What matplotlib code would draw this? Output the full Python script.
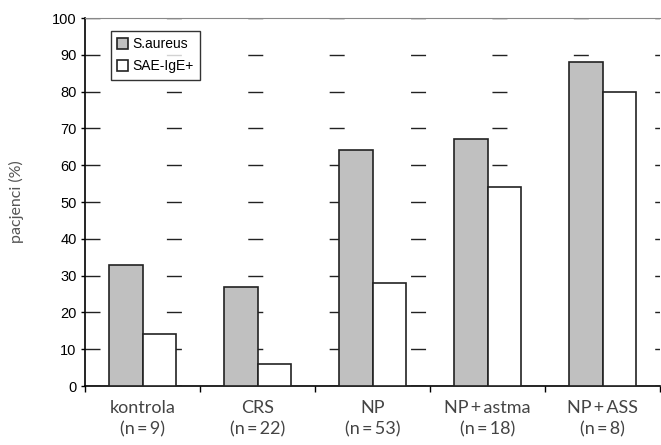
import matplotlib.pyplot as plt
import numpy as np

groups = ['kontrola\n(n\u2009=\u20099)', 'CRS\n(n\u2009=\u200922)', 'NP\n(n\u2009=\u200953)',
          'NP\u2009+\u2009astma\n(n\u2009=\u200918)', 'NP\u2009+\u2009ASS\n(n\u2009=\u20098)']
s_aureus = [33, 27, 64, 67, 88]
sae_ige = [14, 6, 28, 54, 80]

fig = plt.figure(figsize=(6.61, 4.45), dpi=100)
ax = fig.add_axes([85 / 661, 59 / 445, 575 / 661, 368 / 445])

x = np.arange(len(groups))
w = 0.29
ax.bar(x - w / 2, s_aureus, w, color='#c0c0c0', edgecolor='#222222', linewidth=1.2, label='S.aureus', zorder=3)
ax.bar(x + w / 2, sae_ige, w, color='white', edgecolor='#222222', linewidth=1.2, label='SAE-IgE+', zorder=3)

ax.set_xlim(-0.5, 4.5)
ax.set_ylim(0, 100)
ax.set_yticks(range(0, 101, 10))
ax.set_xticks(np.arange(-0.5, 4.6, 1))
ax.set_xticklabels([])
ax.set_xticks(x, minor=True)
ax.set_xticklabels(groups, minor=True, family=['Lato', 'DejaVu Sans'],
                   fontsize=13, color='#444444', linespacing=1.4)
ax.tick_params(axis='x', which='minor', length=0, pad=10)
ax.tick_params(axis='x', which='major', direction='out', length=4, width=1)
ax.tick_params(axis='y', direction='out', length=3, width=1, labelsize=10.5, pad=3)
for t in ax.get_yticklabels():
    t.set_fontfamily('Liberation Sans')

ax.yaxis.grid(True, color='#222222', linewidth=1, linestyle=(0, (10.8, 47.8)), zorder=1)

ax.spines['right'].set_visible(False)
ax.spines['top'].set_color('#888888')
ax.spines['left'].set_linewidth(1.2)
ax.spines['bottom'].set_linewidth(1.2)

ax.set_ylabel('pacjenci (%)', family=['Lato', 'DejaVu Sans'], fontsize=11.5,
              color='#555555', labelpad=20)

leg = ax.legend(loc='upper left', bbox_to_anchor=(0.045, 0.965), frameon=True, fancybox=False,
                edgecolor='black', prop={'family': 'Liberation Sans', 'size': 10},
                handlelength=0.8, handleheight=0.8, handletextpad=0.3, borderpad=0.45,
                labelspacing=0.6, borderaxespad=0)
leg.get_frame().set_linewidth(1)

fig.savefig('out.png', dpi=100)
